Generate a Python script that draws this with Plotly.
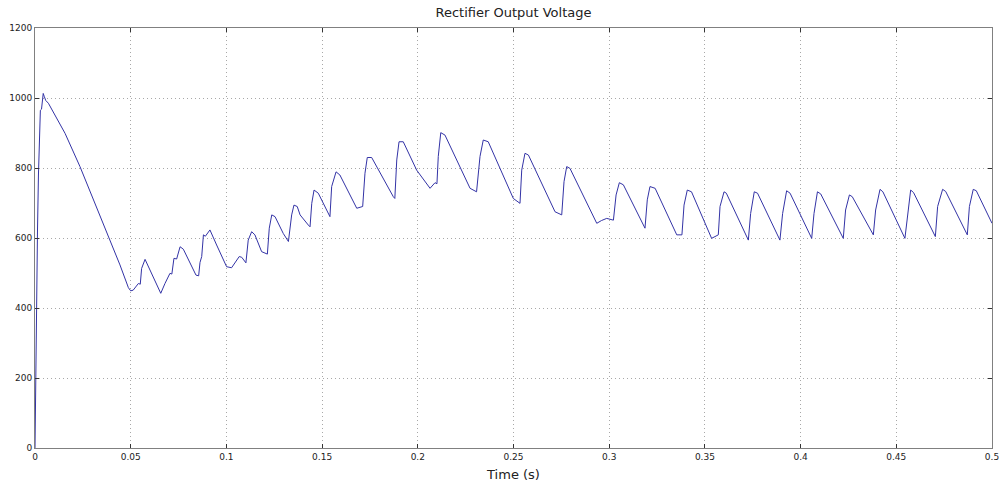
import plotly.graph_objects as go

# --- data ---
time_s = [
    0.0000, 0.0002, 0.0006, 0.0009, 0.0013, 0.0018, 0.0024, 0.0028, 0.0034, 0.0038,
    0.0043, 0.0048, 0.0056, 0.0070, 0.0157, 0.0235, 0.0320, 0.0418, 0.0444, 0.0488,
    0.0500, 0.0513, 0.0540, 0.0550, 0.0557, 0.0575, 0.0592, 0.0657, 0.0679, 0.0705,
    0.0715, 0.0726, 0.0740, 0.0758, 0.0775, 0.0841, 0.0855, 0.0862, 0.0871, 0.0880,
    0.0890, 0.0901, 0.0914, 0.0949, 0.1001, 0.1027, 0.1067, 0.1080, 0.1102, 0.1114,
    0.1132, 0.1149, 0.1184, 0.1214, 0.1224, 0.1237, 0.1254, 0.1297, 0.1324, 0.1341,
    0.1353, 0.1370, 0.1385, 0.1428, 0.1437, 0.1446, 0.1458, 0.1480, 0.1541, 0.1550,
    0.1573, 0.1593, 0.1681, 0.1712, 0.1724, 0.1736, 0.1759, 0.1872, 0.1880, 0.1890,
    0.1902, 0.1924, 0.1994, 0.2064, 0.2090, 0.2100, 0.2107, 0.2120, 0.2142, 0.2273,
    0.2307, 0.2325, 0.2342, 0.2368, 0.2499, 0.2534, 0.2543, 0.2560, 0.2578, 0.2717,
    0.2752, 0.2764, 0.2778, 0.2795, 0.2935, 0.2960, 0.2987, 0.3022, 0.3036, 0.3053,
    0.3074, 0.3187, 0.3199, 0.3213, 0.3240, 0.3353, 0.3380, 0.3391, 0.3408, 0.3430,
    0.3535, 0.3570, 0.3579, 0.3600, 0.3612, 0.3727, 0.3739, 0.3758, 0.3775, 0.3892,
    0.3906, 0.3927, 0.3945, 0.4058, 0.4070, 0.4088, 0.4105, 0.4223, 0.4235, 0.4255,
    0.4270, 0.4380, 0.4392, 0.4415, 0.4430, 0.4545, 0.4557, 0.4575, 0.4590, 0.4704,
    0.4716, 0.4742, 0.4758, 0.4871, 0.4882, 0.4902, 0.4918, 0.5000,
]
voltage_v = [
    0, 120, 260, 420, 620, 780, 930, 965, 968, 995,
    1013, 1005, 993, 985, 899, 804, 690, 561, 523, 458,
    449, 451, 470, 468, 513, 539, 518, 442, 470, 499,
    497, 542, 540, 575, 568, 494, 492, 530, 547, 609,
    605, 614, 623, 580, 518, 515, 547, 545, 529, 594,
    618, 609, 561, 554, 628, 666, 661, 613, 590, 666,
    694, 690, 666, 637, 632, 699, 737, 728, 661, 747,
    789, 780, 685, 690, 785, 830, 830, 718, 713, 823,
    875, 875, 794, 742, 758, 755, 833, 901, 894, 742,
    732, 833, 880, 875, 713, 699, 794, 842, 837, 675,
    666, 761, 804, 799, 642, 650, 656, 651, 723, 758,
    752, 628, 709, 747, 742, 609, 609, 694, 737, 732,
    599, 609, 690, 732, 728, 594, 670, 732, 728, 594,
    670, 735, 728, 599, 670, 732, 726, 599, 680, 723,
    718, 609, 680, 739, 732, 599, 660, 737, 730, 604,
    690, 739, 733, 609, 690, 739, 735, 642,
]

x_tick_vals = [0, 0.05, 0.1, 0.15, 0.2, 0.25, 0.3, 0.35, 0.4, 0.45, 0.5]
x_tick_text = ["0", "0.05", "0.1", "0.15", "0.2", "0.25", "0.3", "0.35", "0.4", "0.45", "0.5"]
y_tick_vals = [0, 200, 400, 600, 800, 1000, 1200]
y_tick_text = ["0", "200", "400", "600", "800", "1000", "1200"]

title_text = "Rectifier Output Voltage"
x_label = "Time (s)"

FONT = "DejaVu Sans, Liberation Sans, Arial, sans-serif"

fig = go.Figure()
fig.add_trace(go.Scatter(
    x=time_s, y=voltage_v, mode="lines",
    line=dict(color="#3333a6", width=1),
    showlegend=False,
))

axis_common = dict(
    showline=True, linecolor="#808080", linewidth=1, mirror="allticks",
    ticks="inside", ticklen=4, tickcolor="#333333", tickwidth=1,
    showgrid=True, gridcolor="#a8a8a8", griddash="1px,3px", gridwidth=1,
    zeroline=False, automargin=False, ticklabeloverflow="allow",
    tickfont=dict(family=FONT, size=9, color="#222222"),
)

fig.update_xaxes(
    range=[0, 0.5], tickvals=x_tick_vals, ticktext=x_tick_text,
    title=dict(text=x_label, standoff=9,
               font=dict(family=FONT, size=13, color="#222222")),
    **axis_common,
)
fig.update_yaxes(
    range=[0, 1200], tickvals=y_tick_vals, ticktext=y_tick_text,
    **axis_common,
)

fig.update_layout(
    width=999, height=484,
    autosize=False,
    margin=dict(l=35, r=7, t=28, b=36, pad=0),
    paper_bgcolor="white", plot_bgcolor="white",
    title=dict(text=title_text, x=0.514, xanchor="center", y=0.975, yanchor="middle",
               yref="container", automargin=False,
               font=dict(family=FONT, size=13, color="#222222")),
)

fig.write_html(
    "out.html",
    config={"displayModeBar": False},
    post_script="document.body.style.margin='0';document.body.style.overflow='hidden';",
)
